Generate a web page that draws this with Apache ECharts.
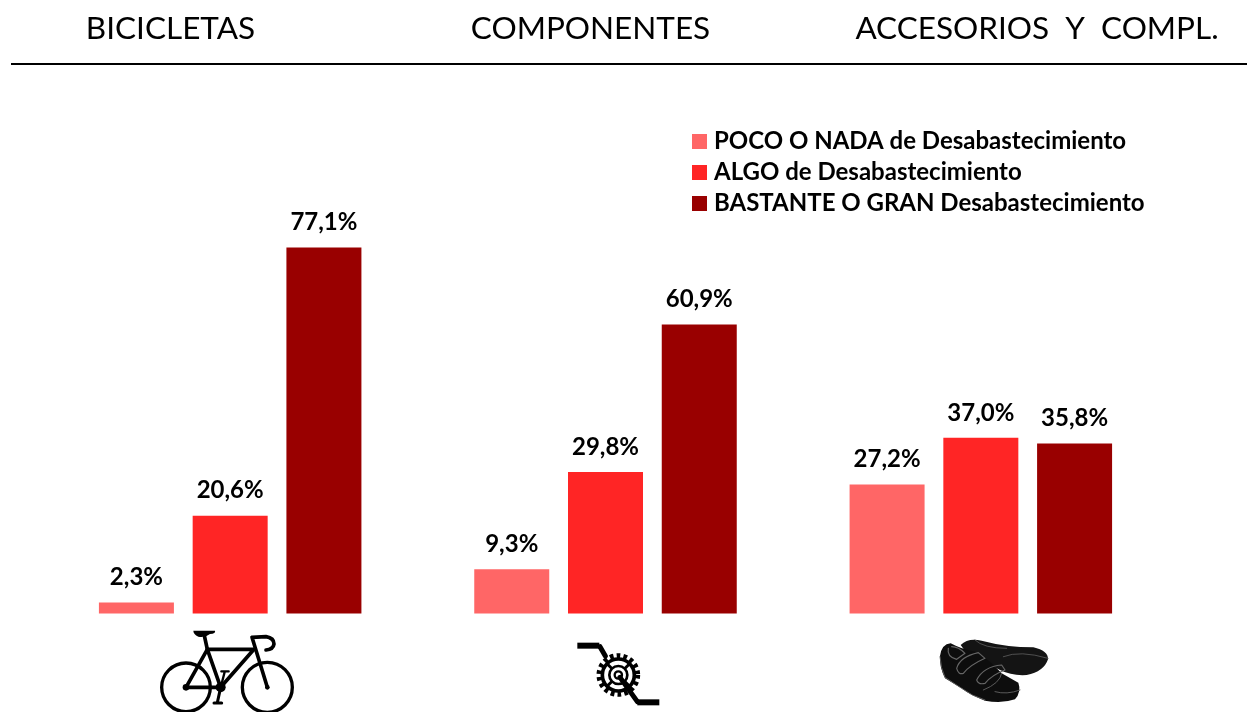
<!DOCTYPE html>
<html><head><meta charset="utf-8">
<style>html,body{margin:0;padding:0;background:#fff}#c{width:1247px;height:712px}</style>
<script src="https://cdn.jsdelivr.net/npm/echarts@6/dist/echarts.min.js"></script></head>
<body><div id="c"></div>
<script>
const categories = ['BICICLETAS', 'COMPONENTES', 'ACCESORIOS  Y  COMPL.'];
const seriesNames = ['POCO O NADA de Desabastecimiento', 'ALGO de Desabastecimiento', 'BASTANTE O GRAN Desabastecimiento'];
const poco = [2.3, 9.3, 27.2];
const algo = [20.6, 29.8, 37.0];
const bastante = [77.1, 60.9, 35.8];
const colors = ['#FF6666', '#FF2525', '#990000'];
const FONT = 'Lato, "Open Sans", sans-serif';

let shapeId = 0;
const pathEl = (d, style) => {
  const name = 'iconPath' + (shapeId++);
  echarts.graphic.registerShape(name, echarts.graphic.extendPath(d, {}));
  return { type: name, style };
};
const stroke = (w, c) => ({ stroke: c || '#000', lineWidth: w, fill: 'none', lineCap: 'round', lineJoin: 'round' });
const P = (d, w, c) => pathEl(d, stroke(w, c));
const fillP = (d, c) => pathEl(d, { fill: c || '#000', stroke: 'none' });
const circ = (cx, cy, r, style) => ({ type: 'circle', shape: { cx, cy, r }, style });

const bike = {
  type: 'group', x: 130, y: 610, scaleX: 1 / 3, scaleY: 1 / 3, silent: true,
  children: [
    circ(168, 232, 73, stroke(10)), circ(412, 232, 75, stroke(10)),
    P('M168 232 L232 118 L372 118 L272 232 L168 232', 11),
    P('M232 118 L272 232', 11),
    P('M232 118 L222 72', 11),
    fillP('M190 62 L255 62 Q258 70 240 72 Q225 84 205 80 Q190 72 190 62 Z'),
    P('M412 232 L366 82 L408 80 Q432 84 432 102 Q430 118 408 120', 11),
    P('M272 232 L262 278 M252 279 L275 279', 9),
    P('M272 232 L284 186 M274 184 L296 184', 7),
    circ(272, 232, 15, { fill: '#000' }), circ(168, 232, 10, { fill: '#000' }), circ(412, 232, 7, { fill: '#000' })
  ]
};
const crank = {
  type: 'group', x: 560, y: 620, scaleX: 1 / 3, scaleY: 1 / 3, silent: true,
  children: [
    { type: 'rect', shape: { x: 52, y: 68, width: 66, height: 18 }, style: { fill: '#000' } },
    P('M120 80 L136 108', 15),
    circ(175, 165, 58, { fill: 'none', stroke: '#000', lineWidth: 15, lineDash: [11, 9.5] }),
    circ(175, 165, 48, { fill: 'none', stroke: '#000', lineWidth: 11 }),
    P('M142 132 L208 198 M208 132 L142 198', 9),
    circ(175, 165, 27, { fill: '#fff', stroke: '#000', lineWidth: 8 }),
    circ(175, 165, 11, { fill: '#fff', stroke: '#000', lineWidth: 7 }),
    P('M180 172 L232 245', 15),
    { type: 'rect', shape: { x: 232, y: 238, width: 66, height: 18 }, style: { fill: '#000' } }
  ]
};
const shoes = {
  type: 'group', x: 920, y: 620, scaleX: 1 / 3, scaleY: 1 / 3, silent: true,
  children: [
    fillP('M122 75 Q145 52 185 62 Q260 82 340 82 Q385 92 384 118 Q372 155 320 165 Q275 168 240 150 L140 100 Z', '#141414'),
    fillP('M60 108 Q65 72 92 70 Q125 88 165 95 Q205 115 245 160 L295 188 Q305 215 285 238 Q245 252 195 242 Q150 225 125 205 L75 175 Q58 140 60 108 Z', '#0d0d0d'),
    P('M85 85 Q80 110 110 118 L135 100 Q115 80 95 80 M110 145 Q120 110 175 98 L195 115 Q150 135 130 160 Q115 165 110 145 M170 180 Q190 140 245 135 L255 150 Q215 165 195 190 Q175 195 170 180', 3.5, '#666'),
    P('M60 110 Q62 145 75 172 L125 205 Q155 228 195 240 M245 160 Q240 190 190 210 M300 210 Q260 225 225 215', 3, '#5a5a5a'),
    P('M250 110 Q300 90 384 115 M165 60 Q190 85 260 85', 3, '#505050')
  ]
};

const barSeries = (name, data, color) => ({
  type: 'bar', name, data, barWidth: 75, barGap: '25%',
  itemStyle: { color },
  label: {
    show: true, position: 'top', distance: 13, color: '#000',
    fontFamily: FONT, fontWeight: 'bold', fontSize: 24,
    formatter: p => p.value.toFixed(1).replace('.', ',') + '%'
  },
  emphasis: { disabled: true }
});

const chart = echarts.init(document.getElementById('c'), null, { renderer: 'canvas' });
const titleCenters = [170.5, 590.5, 1037];
chart.setOption({
  animation: false,
  backgroundColor: '#fff',
  title: categories.map((c, i) => ({
    text: c, left: titleCenters[i], top: 13, textAlign: 'center', padding: 0,
    textStyle: { fontFamily: FONT, fontWeight: 'normal', fontSize: 31.5, color: '#000' }
  })),
  legend: {
    orient: 'vertical', left: 692, top: 126.5, itemWidth: 15, itemHeight: 15, itemGap: 1, padding: 0,
    icon: 'rect', selectedMode: false, data: seriesNames,
    textStyle: { fontFamily: FONT, fontWeight: 'bold', fontSize: 24, color: '#000', padding: [0, 0, 2, 2], lineHeight: 28 }
  },
  grid: { left: 42.5, width: 1126, top: 138.8, height: 474.7 },
  xAxis: { type: 'category', data: categories, show: false },
  yAxis: { type: 'value', min: 0, max: 100, show: false },
  tooltip: { show: false },
  series: [barSeries(seriesNames[0], poco, colors[0]), barSeries(seriesNames[1], algo, colors[1]), barSeries(seriesNames[2], bastante, colors[2])],
  graphic: [
    { type: 'line', shape: { x1: 11, y1: 64, x2: 1247, y2: 64 }, style: { stroke: '#000', lineWidth: 2 }, silent: true },
    bike, crank, shoes
  ]
});
</script></body></html>
